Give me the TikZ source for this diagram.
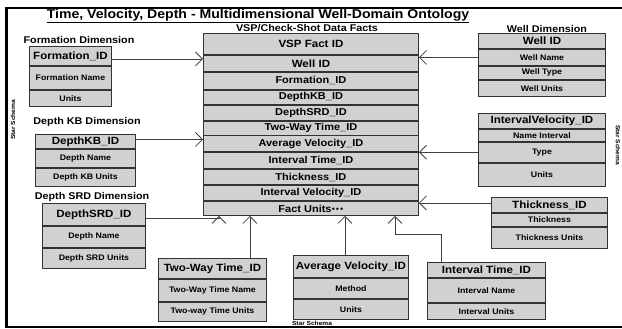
\documentclass[tikz,border=0pt]{standalone}
\usepackage{fontspec}
\setmainfont{Liberation Sans}[FakeStretch=1.1]
\usetikzlibrary{matrix,arrows.meta}

\begin{document}
\begin{tikzpicture}[
    x=1pt, y=-1pt,
    nosep/.style={inner sep=0, outer sep=0},
    cell/.style={draw=black!80, fill=black!18, line width=0.9pt, nosep},
    table/.style={
        matrix of nodes,
        nosep,
        row sep=0pt,
        anchor=north west,
        nodes={cell, minimum width=#1, font=\bfseries\fontsize{8}{9}\selectfont}},
    keyfont/.style={font=\bfseries\fontsize{10.5}{11}\selectfont},
    heading/.style={nosep, font=\bfseries\fontsize{9.8}{10}\selectfont},
    starlbl/.style={nosep, font=\bfseries\fontsize{6}{6}\selectfont},
    link/.style={draw=black!75, line width=0.8pt, -{Straight Barb[length=7pt,width=14pt,line width=0.8pt]}}]
\useasboundingbox (0,0) rectangle (622,329);

% frame and titles
\path[draw, line width=2.8pt] (623,8) -- (6.5,8) -- (6.5,327) -- (623,327);
\node[nosep, font=\bfseries\fontsize{12.8}{14}\selectfont] (title) at (258,16)
    {\underline{Time, Velocity, Depth - Multidimensional Well-Domain Ontology}};
\node[starlbl, rotate=90]  (starL) at (13,120)  {Star Schema};
\node[starlbl, rotate=-90] (starR) at (618,145) {Star Schema};
\node[starlbl]             (starB) at (312,323) {Star Schema};

% fact table
\node[heading] (factT) at (307,28) {VSP/Check-Shot Data Facts};
\matrix (fact) [table=215pt,
    nodes={font=\bfseries\fontsize{10}{11}\selectfont},
    row 1/.style={nodes={minimum height=21pt, keyfont}},
    row 2/.style={nodes={minimum height=16pt, keyfont}},
    row 3/.style={nodes={minimum height=17pt}},
    row 4/.style={nodes={minimum height=14pt}},
    row 5/.style={nodes={minimum height=15pt}},
    row 6/.style={nodes={minimum height=14pt}},
    row 7/.style={nodes={minimum height=16pt}},
    row 8/.style={nodes={minimum height=16pt}},
    row 9/.style={nodes={minimum height=15pt}},
    row 10/.style={nodes={minimum height=15pt}},
    row 11/.style={nodes={minimum height=14pt}}] at (203,33) {
 VSP Fact ID \\
 Well ID \\
 Formation\_ID \\
 DepthKB\_ID \\
 DepthSRD\_ID \\
 Two-Way Time\_ID \\
 Average Velocity\_ID \\
 Interval Time\_ID \\
 Thickness\_ID \\
 Interval Velocity\_ID \\
 Fact Units\raisebox{0.2ex}{\fontsize{5}{5}\selectfont$\bullet\!\bullet\!\bullet$} \\
};

% left dimensions
\node[heading] (formT) at (79,40) {Formation Dimension};
\matrix (form) [table=82pt,
    row 1/.style={nodes={minimum height=19pt, keyfont}},
    row 2/.style={nodes={minimum height=23pt}},
    row 3/.style={nodes={minimum height=16pt}}] at (29,46) {
 Formation\_ID \\
 Formation Name \\
 Units \\
};

\node[heading] (kbT) at (87,122) {Depth KB Dimension};
\matrix (kb) [table=100pt,
    row 1/.style={nodes={minimum height=14pt, keyfont}},
    row 2/.style={nodes={minimum height=18pt}},
    row 3/.style={nodes={minimum height=18pt}}] at (35,134) {
 DepthKB\_ID \\
 Depth Name \\
 Depth KB Units \\
};

\node[heading] (srdT) at (92,197) {Depth SRD Dimension};
\matrix (srd) [table=103pt,
    row 1/.style={nodes={minimum height=22pt, keyfont}},
    row 2/.style={nodes={minimum height=21pt}},
    row 3/.style={nodes={minimum height=20pt}}] at (42,203) {
 DepthSRD\_ID \\
 Depth Name \\
 Depth SRD Units \\
};

% bottom dimensions
\matrix (tw) [table=108pt,
    row 1/.style={nodes={minimum height=20pt, keyfont}},
    row 2/.style={nodes={minimum height=22pt}},
    row 3/.style={nodes={minimum height=19pt}}] at (158,258) {
 Two-Way Time\_ID \\
 Two-Way Time Name \\
 Two-way Time Units \\
};

\matrix (avg) [table=115pt,
    row 1/.style={nodes={minimum height=22pt, keyfont}},
    row 2/.style={nodes={minimum height=20pt}},
    row 3/.style={nodes={minimum height=20pt}}] at (293,255) {
 Average Velocity\_ID \\
 Method \\
 Units \\
};

\matrix (itime) [table=118pt,
    row 1/.style={nodes={minimum height=15pt, keyfont}},
    row 2/.style={nodes={minimum height=24pt}},
    row 3/.style={nodes={minimum height=16pt}}] at (427,262) {
 Interval Time\_ID \\
 Interval Name \\
 Interval Units \\
};

% right dimensions
\node[heading] (wellT) at (547,29) {Well Dimension};
\matrix (well) [table=127pt,
    row 1/.style={nodes={minimum height=15pt, keyfont}},
    row 2/.style={nodes={minimum height=16pt}},
    row 3/.style={nodes={minimum height=13pt}},
    row 4/.style={nodes={minimum height=16pt}}] at (478,33) {
 Well ID \\
 Well Name \\
 Well Type \\
 Well Units \\
};

\matrix (ivel) [table=127pt,
    row 1/.style={nodes={minimum height=15pt, keyfont}},
    row 2/.style={nodes={minimum height=12pt}},
    row 3/.style={nodes={minimum height=20pt}},
    row 4/.style={nodes={minimum height=23pt}}] at (478,113) {
 IntervalVelocity\_ID \\
 Name Interval \\
 Type \\
 Units \\
};

\matrix (thick) [table=116pt,
    row 1/.style={nodes={minimum height=15pt, keyfont}},
    row 2/.style={nodes={minimum height=13pt}},
    row 3/.style={nodes={minimum height=21pt}}] at (491,197) {
 Thickness\_ID \\
 Thickness \\
 Thickness Units \\
};

% connectors
\path[link] ([yshift=-3pt]form-1-1.east) -- ([yshift=-3pt]form-1-1.east -| fact.west);
\path[link] ([yshift=2pt]kb-1-1.east) -- ([yshift=2pt]kb-1-1.east -| fact.west);
\path[link] ([yshift=-4pt]srd-1-1.east) -| ([xshift=16pt]fact.south west);
\path[link] ([xshift=-17pt]tw.north east) -- ([xshift=-17pt]tw.north east |- fact.south);
\path[link] ([xshift=-6pt]avg.north) -- ([xshift=-6pt]avg.north |- fact.south);
\coordinate (bend) at (395,234);
\path[link] ([xshift=14pt]itime.north west) |- (bend) -- (bend |- fact.south);
\path[link] (well-2-1.west) -- (well-2-1.west -| fact.east);
\path[link] (ivel-3-1.west) -- (ivel-3-1.west -| fact.east);
\path[link] ([yshift=2pt]thick-1-1.west) -- ([yshift=2pt]thick-1-1.west -| fact.east);

\end{tikzpicture}
\end{document}
